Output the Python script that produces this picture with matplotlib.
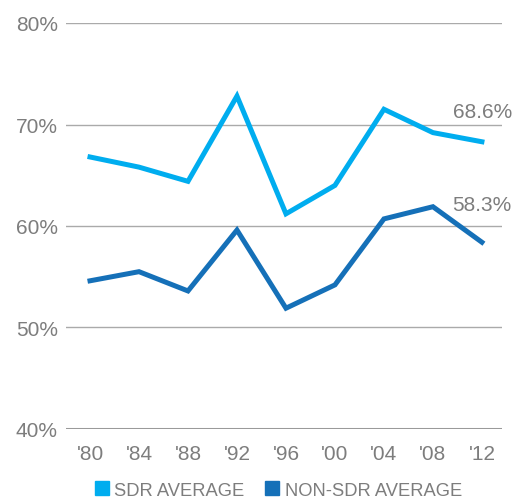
import matplotlib
matplotlib.use('Agg')
import matplotlib.pyplot as plt
from matplotlib.lines import Line2D
import numpy as np

plt.rcParams['font.family'] = ['Liberation Sans', 'DejaVu Sans']

years = ["'80", "'84", "'88", "'92", "'96", "'00", "'04", "'08", "'12"]
sdr = [66.8, 65.8, 64.4, 72.8, 61.2, 64.0, 71.5, 69.2, 68.3]
non_sdr = [54.6, 55.5, 53.6, 59.6, 51.9, 54.2, 60.7, 61.9, 58.4]
yticks = [40, 50, 60, 70, 80]
ytick_labels = ['40%', '50%', '60%', '70%', '80%']
end_labels = ['68.6%', '58.3%']

light = '#00adef'
dark = '#1570b8'
grey = '#7d7d7d'

fig = plt.figure(figsize=(5.16, 5.02), dpi=100)
ax = fig.add_axes([66 / 516, 1 - 430 / 502, 436 / 516, 406 / 502])

x = np.arange(len(years))
ax.plot(x, sdr, color=light, lw=3.6, solid_joinstyle='miter', zorder=3)
ax.plot(x, non_sdr, color=dark, lw=3.6, solid_joinstyle='miter', zorder=3)

# gridlines
for v in yticks[1:]:
    ax.axhline(v, color='#aaaaaa', lw=1, zorder=1)
ax.axhline(40, color='#9a9a9a', lw=2.2, zorder=1)

ax.set_ylim(40, 80)
ax.set_xlim(-0.49, 8.41)
ax.set_yticks(yticks)
ax.set_yticklabels(ytick_labels)
ax.set_xticks(x)
ax.set_xticklabels(years)
ax.tick_params(length=0, labelsize=15, colors=grey)
ax.tick_params(axis='y', pad=6)
ax.tick_params(axis='x', pad=11)
for s in ax.spines.values():
    s.set_visible(False)

ax.text(7.4, 70.7, end_labels[0], fontsize=15, color=grey, ha='left',
        va='baseline', clip_on=False)
ax.text(7.4, 61.6, end_labels[1], fontsize=15, color=grey, ha='left',
        va='baseline', clip_on=False)

handles = [Line2D([], [], marker='s', ls='none', color=light, markersize=10),
           Line2D([], [], marker='s', ls='none', color=dark, markersize=10)]
fig.legend(handles, ['SDR AVERAGE', 'NON-SDR AVERAGE'], loc='lower left',
           bbox_to_anchor=(0.165, -0.014), ncol=2, frameon=False,
           fontsize=13.2, labelcolor=grey, borderpad=0, handlelength=0.8,
           handletextpad=0.3, columnspacing=1.1)

fig.savefig('out.png', dpi=100)
